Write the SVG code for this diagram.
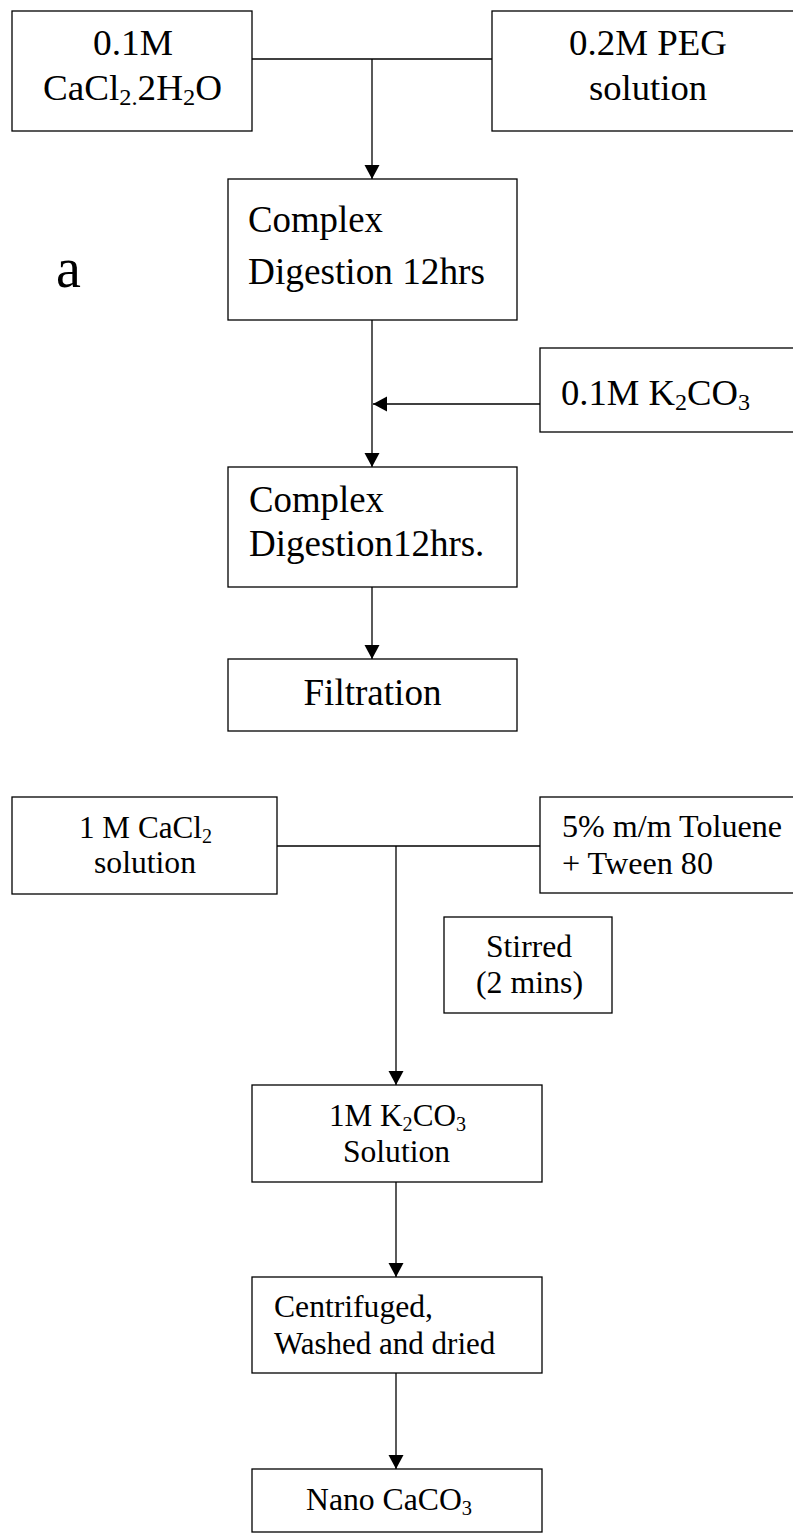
<svg xmlns="http://www.w3.org/2000/svg" width="793" height="1536" viewBox="0 0 793 1536">
  <style>
    rect.box { fill: #ffffff; stroke: #000000; stroke-width: 1.3; }
    .conn line, .conn polyline { fill: none; stroke: #000000; stroke-width: 1.3; }
    text { font-family: "Liberation Serif", "Times New Roman", serif; fill: #000000; }
    .big { font-size: 35px; }
    .mid { font-size: 37px; }
    .sm { font-size: 31px; }
    .lbl { font-size: 56px; }
    .s35 { font-size: 23px; }
    .s31 { font-size: 20px; }
  </style>
  <defs>
    <marker id="arrow" markerUnits="userSpaceOnUse" markerWidth="15" markerHeight="16" refX="14" refY="7.5" orient="auto">
      <path d="M0,0 L14,7.5 L0,15 z" fill="#000000"/>
    </marker>
  </defs>

  <rect width="793" height="1536" fill="#ffffff"/>

  <!-- connectors -->
  <g class="conn" id="connectors">
    <!-- section a -->
    <line x1="252" y1="59" x2="492" y2="59"/>
    <line x1="372" y1="59" x2="372" y2="179" marker-end="url(#arrow)"/>
    <line x1="372" y1="320" x2="372" y2="467" marker-end="url(#arrow)"/>
    <line x1="540" y1="404" x2="373" y2="404" marker-end="url(#arrow)"/>
    <line x1="372" y1="587" x2="372" y2="659" marker-end="url(#arrow)"/>
    <!-- section b -->
    <line x1="277" y1="846" x2="540" y2="846"/>
    <line x1="396" y1="846" x2="396" y2="1085" marker-end="url(#arrow)"/>
    <line x1="396" y1="1182" x2="396" y2="1277" marker-end="url(#arrow)"/>
    <line x1="396" y1="1373" x2="396" y2="1469" marker-end="url(#arrow)"/>
  </g>

  <!-- section labels -->
  <text id="label-a" class="lbl" x="56" y="287">a</text>
  <text id="label-b" class="lbl" x="52" y="883">b</text>

  <!-- section a nodes -->
  <g id="cacl2-dihydrate">
    <rect class="box" x="12" y="11" width="240" height="120"/>
    <text class="big" x="133" y="55" text-anchor="middle" textLength="80" lengthAdjust="spacingAndGlyphs">0.1M</text>
    <text class="big" x="132.5" y="100" text-anchor="middle" textLength="179" lengthAdjust="spacingAndGlyphs">CaCl<tspan class="s35" dy="5">2.</tspan><tspan dy="-5">2H</tspan><tspan class="s35" dy="5">2</tspan><tspan dy="-5">O</tspan></text>
  </g>

  <g id="peg-solution">
    <rect class="box" x="492" y="11" width="320" height="120"/>
    <text class="big" x="648" y="55" text-anchor="middle" textLength="158" lengthAdjust="spacingAndGlyphs">0.2M PEG</text>
    <text class="big" x="648" y="100" text-anchor="middle" textLength="118" lengthAdjust="spacingAndGlyphs">solution</text>
  </g>

  <g id="digestion-1">
    <rect class="box" x="228" y="179" width="289" height="141"/>
    <text class="mid" x="248" y="232" textLength="135" lengthAdjust="spacingAndGlyphs">Complex</text>
    <text class="mid" x="248" y="284" textLength="237" lengthAdjust="spacingAndGlyphs">Digestion 12hrs</text>
  </g>

  <g id="k2co3-01">
    <rect class="box" x="540" y="348" width="270" height="84"/>
    <text class="big" x="561" y="405" textLength="189" lengthAdjust="spacingAndGlyphs">0.1M K<tspan class="s35" dy="5">2</tspan><tspan dy="-5">CO</tspan><tspan class="s35" dy="5">3</tspan></text>
  </g>

  <g id="digestion-2">
    <rect class="box" x="228" y="467" width="289" height="120"/>
    <text class="mid" x="249" y="512" textLength="135" lengthAdjust="spacingAndGlyphs">Complex</text>
    <text class="mid" x="249" y="556">Digestion12hrs.</text>
  </g>

  <g id="filtration">
    <rect class="box" x="228" y="659" width="289" height="72"/>
    <text class="mid" x="372.5" y="705" text-anchor="middle" textLength="138" lengthAdjust="spacingAndGlyphs">Filtration</text>
  </g>

  <!-- section b nodes -->
  <g id="cacl2-solution">
    <rect class="box" x="12" y="797" width="265" height="97"/>
    <text class="sm" x="145.5" y="838" text-anchor="middle" textLength="133" lengthAdjust="spacingAndGlyphs">1 M CaCl<tspan class="s31" dy="5">2</tspan></text>
    <text class="sm" x="145" y="873" text-anchor="middle" textLength="102" lengthAdjust="spacingAndGlyphs">solution</text>
  </g>

  <g id="toluene-tween">
    <rect class="box" x="540" y="797" width="270" height="96"/>
    <text class="sm" x="562" y="837" textLength="220" lengthAdjust="spacingAndGlyphs">5% m/m Toluene</text>
    <text class="sm" x="562" y="874" textLength="151" lengthAdjust="spacingAndGlyphs">+ Tween 80</text>
  </g>

  <g id="stirred">
    <rect class="box" x="444" y="917" width="168" height="96"/>
    <text class="sm" x="529" y="957" text-anchor="middle" textLength="86" lengthAdjust="spacingAndGlyphs">Stirred</text>
    <text class="sm" x="529.5" y="993" text-anchor="middle" textLength="107" lengthAdjust="spacingAndGlyphs">(2 mins)</text>
  </g>

  <g id="k2co3-solution">
    <rect class="box" x="252" y="1085" width="290" height="97"/>
    <text class="sm" x="397.5" y="1126" text-anchor="middle" textLength="137" lengthAdjust="spacingAndGlyphs">1M K<tspan class="s31" dy="5">2</tspan><tspan dy="-5">CO</tspan><tspan class="s31" dy="5">3</tspan></text>
    <text class="sm" x="396.5" y="1162" text-anchor="middle" textLength="107" lengthAdjust="spacingAndGlyphs">Solution</text>
  </g>

  <g id="centrifuged">
    <rect class="box" x="252" y="1277" width="290" height="96"/>
    <text class="sm" x="274" y="1317" textLength="159" lengthAdjust="spacingAndGlyphs">Centrifuged,</text>
    <text class="sm" x="274" y="1354">Washed and dried</text>
  </g>

  <g id="nano-caco3">
    <rect class="box" x="252" y="1469" width="290" height="63"/>
    <text class="sm" x="389" y="1510" text-anchor="middle" textLength="166" lengthAdjust="spacingAndGlyphs">Nano CaCO<tspan class="s31" dy="5">3</tspan></text>
  </g>
</svg>
